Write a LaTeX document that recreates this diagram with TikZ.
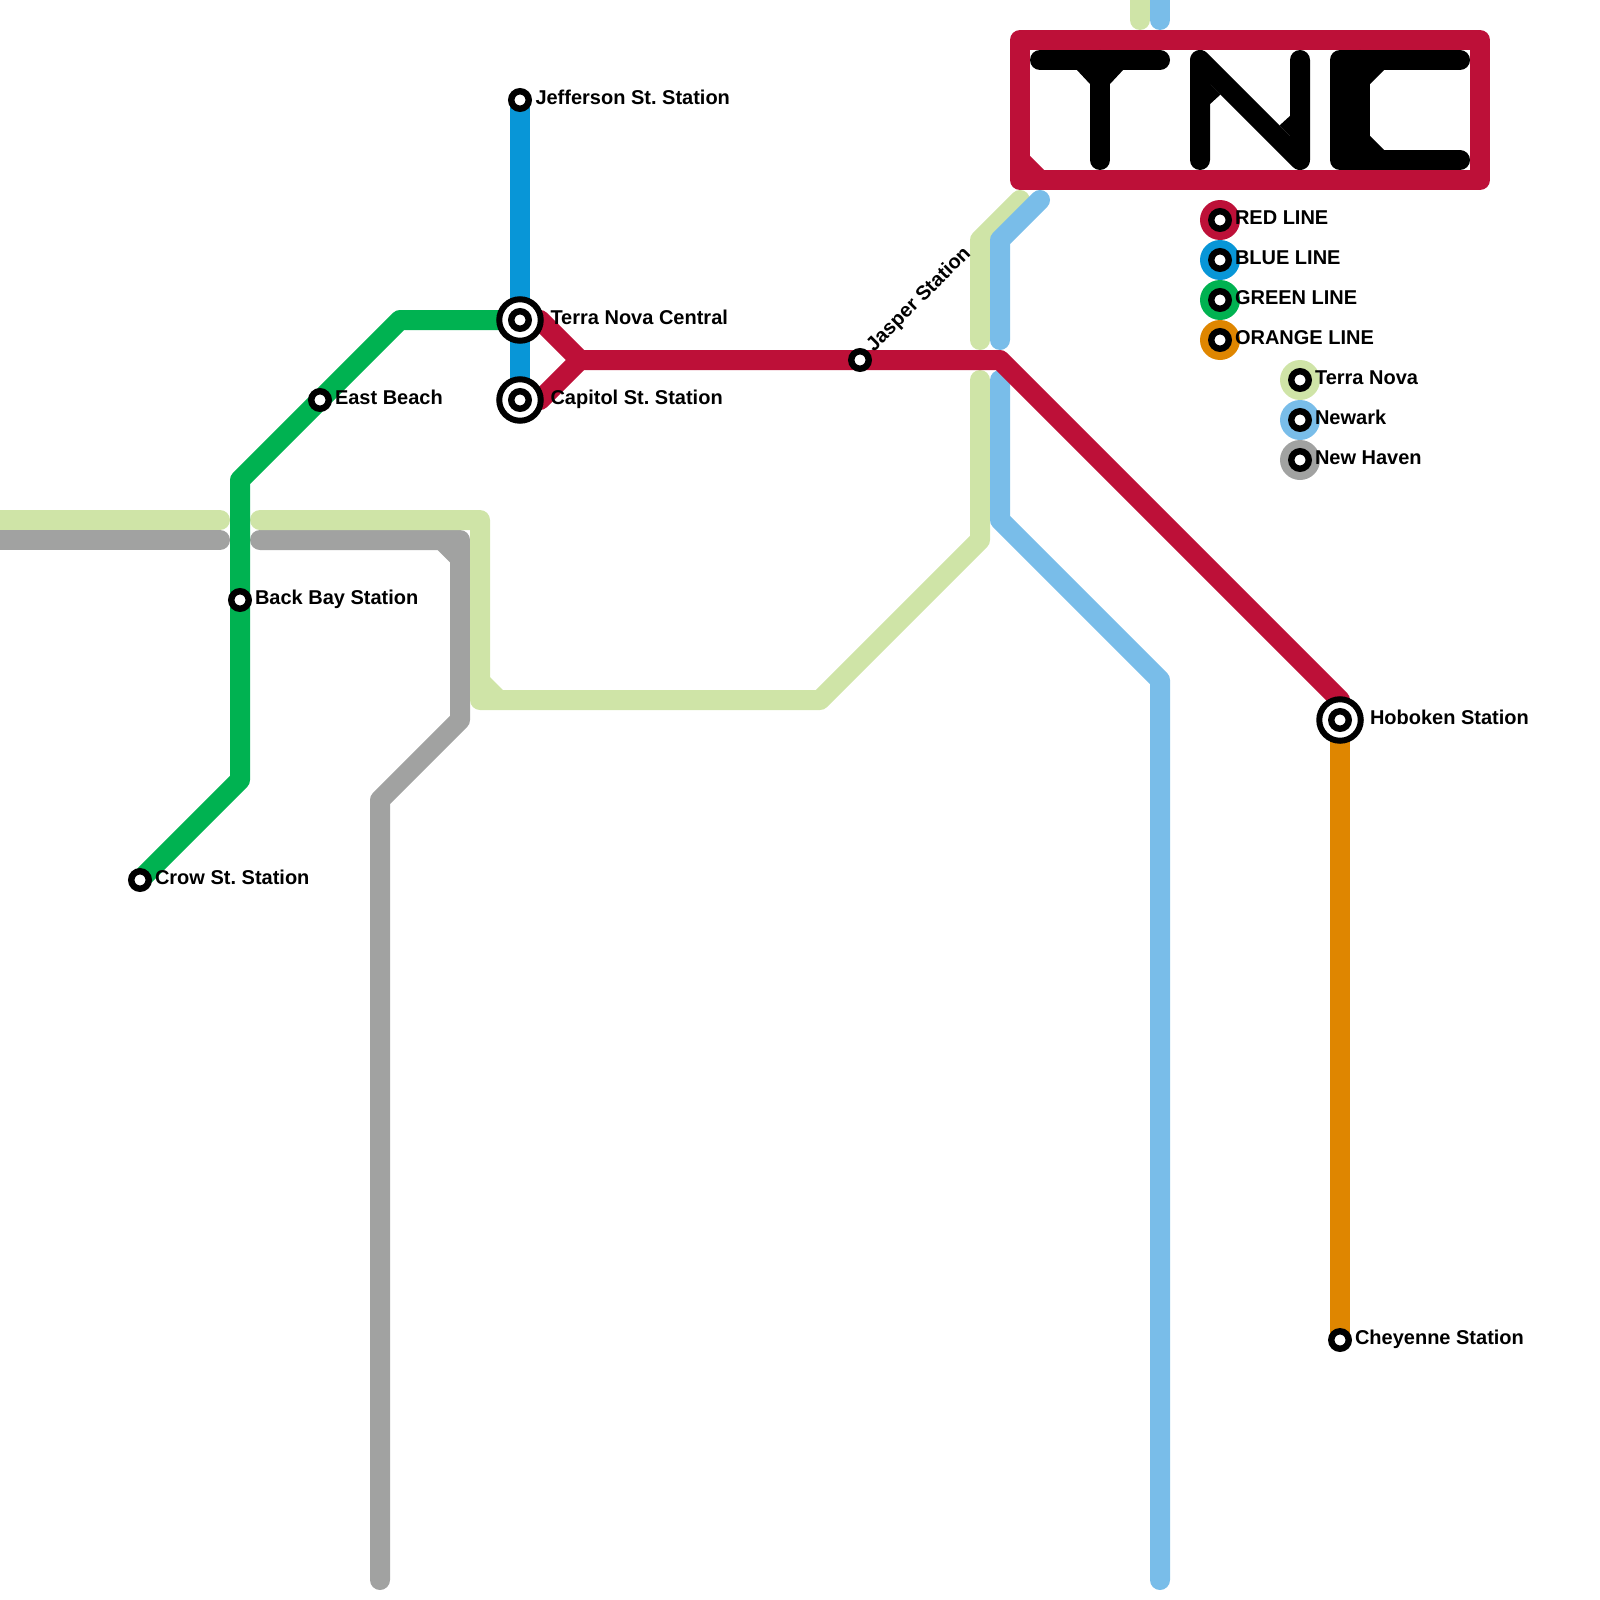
\documentclass[tikz,border=0pt]{standalone}
\usepackage{fontspec}
\setmainfont{Liberation Sans}
\usetikzlibrary{backgrounds}
\definecolor{redl}{HTML}{BD1038}
\definecolor{bluel}{HTML}{0896D7}
\definecolor{greenl}{HTML}{00B251}
\definecolor{orangel}{HTML}{DF8600}
\definecolor{tnl}{HTML}{CFE4A7}
\definecolor{newl}{HTML}{79BDE9}
\definecolor{greyl}{HTML}{A1A2A1}
\tikzset{
  rail/.style={line width=10pt,line cap=round,line join=round},
  stn/.style={circle,draw=black,fill=white,line width=3.2pt,minimum size=8.75pt,inner sep=0pt,outer sep=0pt},
  hub/.style={circle,draw=black,fill=white,line width=3pt,minimum size=20.75pt,inner sep=0pt,outer sep=0pt},
  disc/.style={circle,minimum size=20pt,inner sep=0pt,outer sep=0pt},
  lbl/.style={anchor=base west,inner sep=0pt,outer sep=0pt,text=black,font=\fontsize{10}{12}\selectfont\bfseries}
}
\frenchspacing
\begin{document}
\begin{tikzpicture}[x=0.5pt,y=-0.5pt]
\useasboundingbox (0,0) rectangle (1600,1600);
\clip (0,0) rectangle (1600,1600);
% stations
\node[stn] (jefferson) at (520,100) {};
\node[hub] (centralO) at (520,320) {};
\node[stn] (central) at (520,320) {};
\node[hub] (capitolO) at (520,400) {};
\node[stn] (capitol) at (520,400) {};
\node[stn] (jasper) at (860,360) {};
\node[stn] (eastbeach) at (320,400) {};
\node[stn] (backbay) at (240,600) {};
\node[stn] (crow) at (140,880) {};
\node[hub] (hobokenO) at (1340,720) {};
\node[stn] (hoboken) at (1340,720) {};
\node[stn] (cheyenne) at (1340,1340) {};
% labels
\node[lbl] (ljefferson) at (535.5,104.5) {Jefferson St. Station};
\node[lbl] (lcentral) at (550.5,324) {Terra Nova Central};
\node[lbl] (lcapitol) at (550.5,404.5) {Capitol St. Station};
\node[lbl,rotate=45] (ljasper) at (874,352) {Jasper Station};
\node[lbl] (least) at (335,404.5) {East Beach};
\node[lbl] (lback) at (255,604.5) {Back Bay Station};
\node[lbl] (lcrow) at (155,884.5) {Crow St. Station};
\node[lbl] (lhoboken) at (1370,724) {Hoboken Station};
\node[lbl] (lcheyenne) at (1355,1344.5) {Cheyenne Station};
% legend
\node[stn] (k1) at (1220,220) {};
\node[stn] (k2) at (1220,260) {};
\node[stn] (k3) at (1220,300) {};
\node[stn] (k4) at (1220,340) {};
\node[stn] (k5) at (1300,380) {};
\node[stn] (k6) at (1300,420) {};
\node[stn] (k7) at (1300,460) {};
\node[lbl] (t1) at (1235,224) {RED LINE};
\node[lbl] (t2) at (1235,264) {BLUE LINE};
\node[lbl] (t3) at (1235,304) {GREEN LINE};
\node[lbl] (t4) at (1235,344) {ORANGE LINE};
\node[lbl] (t5) at (1315,384) {Terra Nova};
\node[lbl] (t6) at (1315,424) {Newark};
\node[lbl] (t7) at (1315,464) {New Haven};
\begin{scope}[on background layer]
% legend discs
\node[disc,fill=redl] at (k1.center) {};
\node[disc,fill=bluel] at (k2.center) {};
\node[disc,fill=greenl] at (k3.center) {};
\node[disc,fill=orangel] at (k4.center) {};
\node[disc,fill=tnl] at (k5.center) {};
\node[disc,fill=newl] at (k6.center) {};
\node[disc,fill=greyl] at (k7.center) {};
% grey
\draw[rail,greyl] (-20,540) -- (220,540);
\draw[rail,greyl] (260,540) -- (460,540) -- (460,720) -- (380,800) -- (380,1580);
\fill[greyl] (451,549) -- (436.5,549) -- (451,563.5) -- cycle;
% Terra Nova line
\draw[rail,tnl] (-20,520) -- (220,520);
\draw[rail,tnl] (260,520) -- (480,520) -- (480,700) -- (820,700) -- (980,540) -- (980,380);
\fill[tnl] (489,676) -- (489,691) -- (504,691) -- cycle;
\draw[rail,tnl] (1020,200) -- (980,240) -- (980,340);
\draw[rail,tnl] (1140,-20) -- (1140,20);
% Newark line
\draw[rail,newl] (1040,200) -- (1000,240) -- (1000,340);
\draw[rail,newl] (1000,380) -- (1000,520) -- (1160,680) -- (1160,1580);
\draw[rail,newl] (1160,-20) -- (1160,20);
% blue
\draw[rail,bluel] (jefferson.center) -- (capitol.center);
% green
\draw[rail,greenl] (crow.center) -- (240,780) -- (backbay.center) -- (240,480) -- (eastbeach.center) -- (400,320) -- (central.center);
% orange
\draw[rail,orangel] (hoboken.center) -- (cheyenne.center);
% red
\draw[rail,redl] (central.center) -- (540,320) -- (580,360) -- (jasper.center) -- (1000,360) -- (1340,700) -- (hoboken.center);
\draw[rail,redl] (capitol.center) -- (540,400) -- (580,360);
% TNC frame
\draw[rail,redl] (1020,40) rectangle (1480,180);
\fill[redl] (1029,155) -- (1029,171) -- (1045,171) -- cycle;
% T
\draw[rail,black] (1040,60) -- (1160,60);
\draw[rail,black] (1100,60) -- (1100,160);
\fill[black] (1076,69) -- (1124,69) -- (1110,84) -- (1090,84) -- cycle;
% N
\draw[rail,black] (1200,160) -- (1200,60) -- (1300,160) -- (1300,60);
\fill[black] (1209,83) -- (1220.5,94.5) -- (1209,105) -- cycle;
\fill[black] (1291,137) -- (1279.5,125.5) -- (1291,115) -- cycle;
% C
\draw[rail,black] (1460,60) -- (1340,60) -- (1340,160) -- (1460,160);
\draw[rail,black] (1360,60) -- (1360,160);
\fill[black] (1369,69) -- (1385,69) -- (1369,85) -- cycle;
\fill[black] (1369,151) -- (1385,151) -- (1369,135) -- cycle;
\end{scope}
\end{tikzpicture}
\end{document}
